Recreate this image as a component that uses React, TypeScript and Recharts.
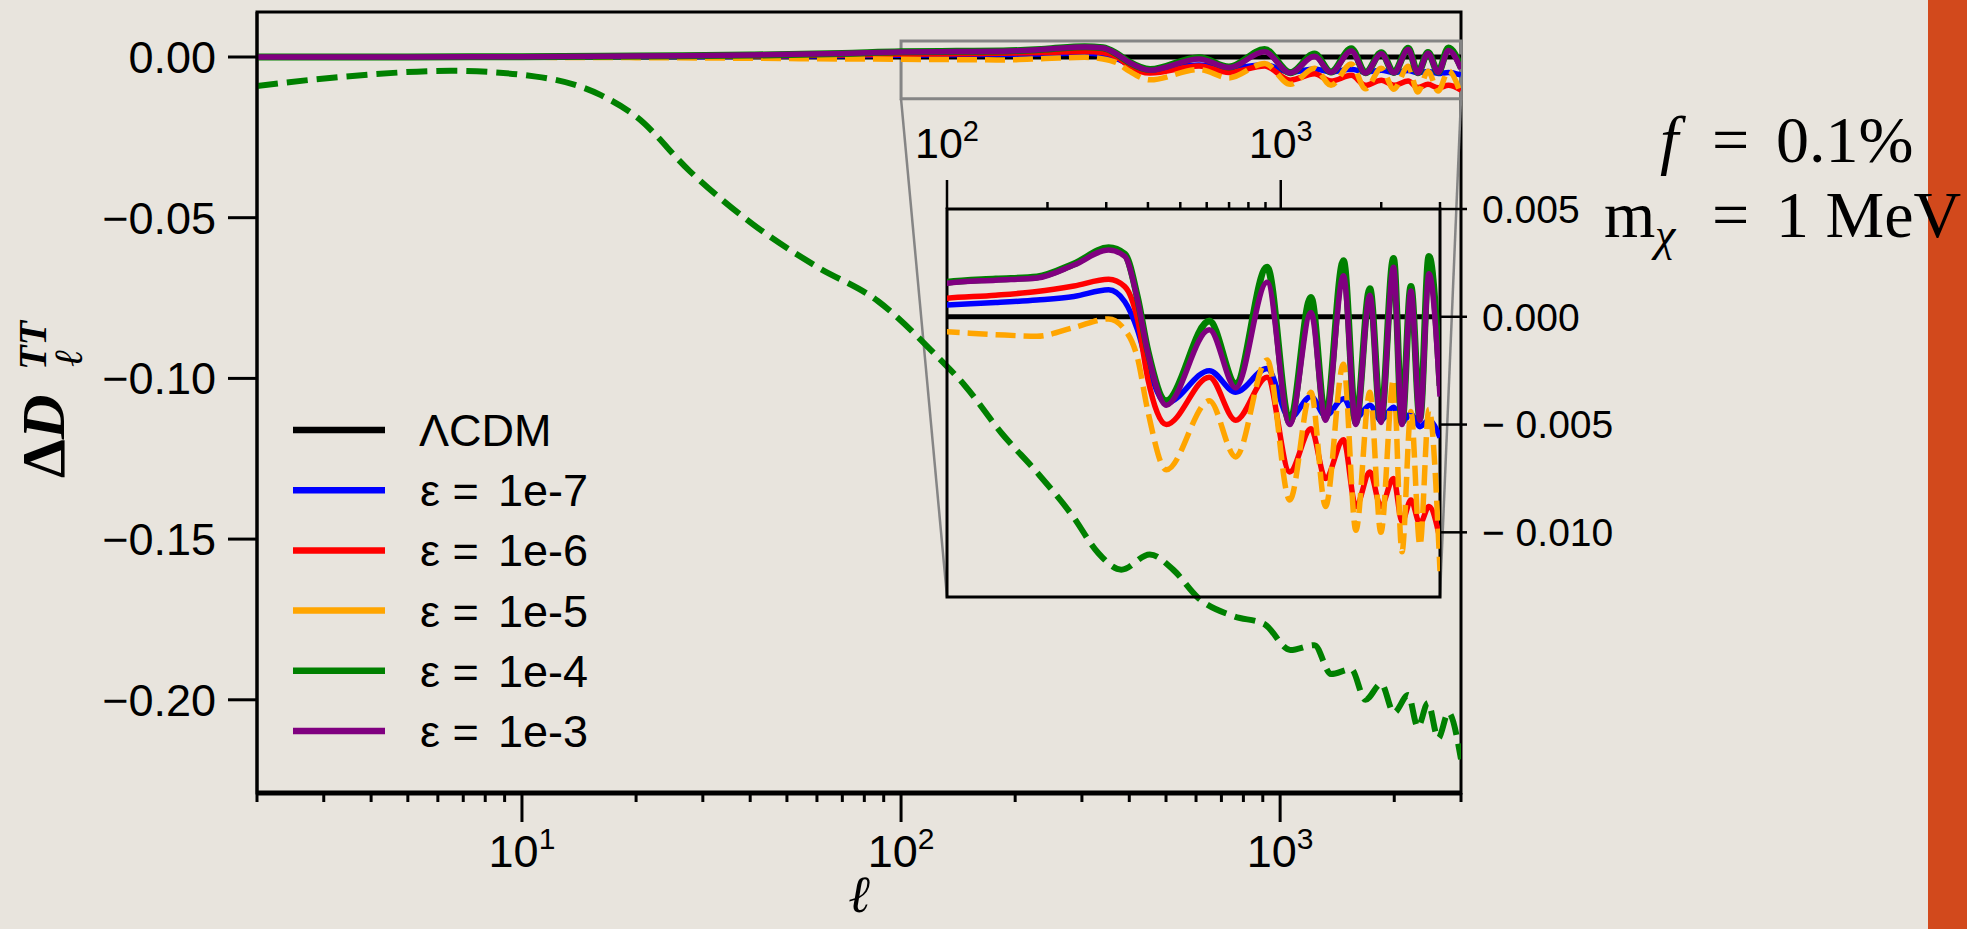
import React from "react";
import { Line, LineChart, ReferenceArea, ReferenceLine, XAxis, YAxis } from "recharts";

// multipole grid shared by the near-zero curves
const ell = [
  2, 5, 10, 20, 40, 70, 100, 140, 186, 240, 305, 341, 372, 400, 454, 611, 733,
  910, 1064, 1232, 1362, 1541, 1679, 1849, 1995, 2177, 2308, 2455, 2612, 2780,
  3000,
];

const lcdmEll = [2, 3000];
const lcdmVals = [0, 0];

const eps7 = [
  0, 0.00001, 0.00003, 0.0001, 0.0002, 0.0004, 0.00055, 0.00066, 0.00078,
  0.00094, 0.00125, 0.0007, -0.0006, -0.0023, -0.004, -0.0025, -0.0035,
  -0.0024, -0.0047, -0.0037, -0.0046, -0.0038, -0.0047, -0.0041, -0.0048,
  -0.0042, -0.0049, -0.0045, -0.0051, -0.0048, -0.0056,
];
const eps6 = [
  0, 0.00002, 0.00005, 0.00015, 0.0003, 0.0006, 0.00086, 0.001, 0.00117,
  0.00143, 0.00174, 0.0014, -0.0001, -0.0029, -0.005, -0.0028, -0.0048,
  -0.0028, -0.0072, -0.0052, -0.0075, -0.0057, -0.0088, -0.0072, -0.0088,
  -0.0075, -0.0095, -0.0085, -0.0096, -0.0088, -0.0103,
];
const eps5 = [
  0, -0.00003, -0.0001, -0.0002, -0.0004, -0.0006, -0.0007, -0.00083, -0.0009,
  -0.0005, -0.0001, -0.0006, -0.0019, -0.0044, -0.0071, -0.0039, -0.0065,
  -0.002, -0.0085, -0.0035, -0.0088, -0.0022, -0.0099, -0.0035, -0.01,
  -0.0029, -0.0109, -0.0044, -0.0106, -0.0043, -0.0118,
];
const eps4 = [
  0, 0.00003, 0.0001, 0.0003, 0.0006, 0.0011, 0.0016, 0.00175, 0.00185,
  0.00245, 0.0032, 0.0029, 0.0009, -0.0016, -0.0039, -0.0002, -0.0031, 0.0023,
  -0.0049, 0.0009, -0.0047, 0.0026, -0.0049, 0.0013, -0.0048, 0.0027, -0.0049,
  0.0014, -0.0047, 0.0028, -0.0032,
];
const eps3 = [
  0, 0.00003, 0.0001, 0.0003, 0.0006, 0.0011, 0.00156, 0.0017, 0.0018, 0.0024,
  0.0031, 0.0028, 0.0008, -0.0017, -0.0041, -0.0006, -0.0033, 0.0016, -0.005,
  0.0002, -0.0048, 0.0019, -0.005, 0.001, -0.0049, 0.0023, -0.005, 0.0012,
  -0.0048, 0.002, -0.0037,
];

// the large dashed green curve
const bigEll = [
  2, 3.4, 6.5, 10.9, 16.1, 20, 27.7, 40.6, 59.5, 87, 122, 148, 184, 229, 284,
  331, 381, 453, 522, 608, 755, 910, 1064, 1232, 1362, 1541, 1679, 1849, 1995,
  2177, 2308, 2455, 2612, 2780, 3000,
];
const bigVals = [
  -0.009, -0.0061, -0.0043, -0.0061, -0.0118, -0.0185, -0.0355, -0.052, -0.065,
  -0.076, -0.0921, -0.1025, -0.117, -0.1294, -0.1429, -0.1543, -0.1595,
  -0.1548, -0.1595, -0.1683, -0.174, -0.1765, -0.1845, -0.183, -0.192, -0.1905,
  -0.2, -0.195, -0.204, -0.1985, -0.2085, -0.201, -0.212, -0.204, -0.2185,
];

const seriesNames = ["ΛCDM", "1e-7", "1e-6", "1e-5", "1e-4", "1e-3"];
const seriesColors = ["#000000", "#0000ff", "#ff0000", "#ffa500", "#008000", "#800080"];

const mainXTicks = [
  2, 3, 4, 5, 6, 7, 8, 9, 10, 20, 30, 40, 50, 60, 70, 80, 90, 100, 200, 300,
  400, 500, 600, 700, 800, 900, 1000, 2000, 3000,
];
const mainMajors = [10, 100, 1000];
const mainMajorExps = ["1", "2", "3"];
const mainYTicks = [0, -0.05, -0.1, -0.15, -0.2];
const mainYLabels = ["0.00", "−0.05", "−0.10", "−0.15", "−0.20"];

const insetXTicks = [100, 200, 300, 400, 500, 600, 700, 800, 900, 1000, 2000, 3000];
const insetMajors = [100, 1000];
const insetMajorExps = ["2", "3"];
const insetYTicks = [0.005, 0, -0.005, -0.01];
const insetYLabels = ["0.005", "0.000", "− 0.005", "− 0.010"];

const mainXDomain = [2, 3000];
const mainYDomain = [-0.229, 0.014];
const insetXDomain = [100, 3000];
const insetYDomain = [-0.013, 0.005];

// inset box corners expressed in the main axes (for the connector lines)
const insetCornerEllLeft = 132.2;
const insetCornerEllRight = 2640;
const insetCornerBottom = -0.168;

const BG = "#e8e4dd";
const NARROW = '"Liberation Sans Narrow", "Arial Narrow", "Liberation Sans", sans-serif';
const SANS = '"Liberation Sans", Arial, sans-serif';
const SERIF = '"Liberation Serif", "Times New Roman", serif';

const toRows = (xs: number[], ys: number[]) => xs.map((l, i) => ({ l, v: ys[i] }));

const lcdmData = toRows(lcdmEll, lcdmVals);
const eps7Data = toRows(ell, eps7);
const eps6Data = toRows(ell, eps6);
const eps5Data = toRows(ell, eps5);
const eps4Data = toRows(ell, eps4);
const eps3Data = toRows(ell, eps3);
const bigData = toRows(bigEll, bigVals);

function MainXTick(props: any) {
  const { x, y, payload } = props;
  const idx = mainMajors.indexOf(payload.value);
  const major = idx >= 0;
  return (
    <g>
      <line x1={x} x2={x} y1={y} y2={y + (major ? 29 : 9)} stroke="#000" strokeWidth={3} />
      {major ? (
        <text x={x} y={y + 74} textAnchor="middle" fontSize={45} fontFamily={NARROW} fill="#000">
          10
          <tspan dy={-18} fontSize={30}>
            {mainMajorExps[idx]}
          </tspan>
        </text>
      ) : null}
    </g>
  );
}

function InsetXTick(props: any) {
  const { x, y, payload } = props;
  const idx = insetMajors.indexOf(payload.value);
  const major = idx >= 0;
  return (
    <g>
      <line x1={x} x2={x} y1={y} y2={y - (major ? 29 : 7)} stroke="#000" strokeWidth={2.5} />
      {major ? (
        <text x={x} y={y - 51} textAnchor="middle" fontSize={43} fontFamily={NARROW} fill="#000">
          10
          <tspan dy={-17} fontSize={29}>
            {insetMajorExps[idx]}
          </tspan>
        </text>
      ) : null}
    </g>
  );
}

function Curves({ inset }: { inset: boolean }) {
  const w = 5.5;
  return (
    <>
      <Line data={lcdmData} dataKey="v" stroke={seriesColors[0]} strokeWidth={5} dot={false} isAnimationActive={false} />
      <Line data={eps7Data} dataKey="v" type="monotone" stroke={seriesColors[1]} strokeWidth={w} dot={false} isAnimationActive={false} />
      <Line data={eps6Data} dataKey="v" type="monotone" stroke={seriesColors[2]} strokeWidth={w} dot={false} isAnimationActive={false} />
      <Line data={eps5Data} dataKey="v" type="monotone" stroke={seriesColors[3]} strokeWidth={w} strokeDasharray="20 8" dot={false} isAnimationActive={false} />
      <Line data={eps4Data} dataKey="v" type="monotone" stroke={seriesColors[4]} strokeWidth={w + 1.5} dot={false} isAnimationActive={false} />
      <Line data={eps3Data} dataKey="v" type="monotone" stroke={seriesColors[5]} strokeWidth={w} dot={false} isAnimationActive={false} />
      {inset ? null : (
        <Line data={bigData} dataKey="v" type="monotone" stroke="#008000" strokeWidth={6} strokeDasharray="21 9" dot={false} isAnimationActive={false} />
      )}
    </>
  );
}

function Legend() {
  return (
    <g>
      {seriesNames.map((name, i) => {
        const cy = 430 + i * 60.2;
        return (
          <g key={name}>
            <line x1={293} x2={385} y1={cy} y2={cy} stroke={seriesColors[i]} strokeWidth={6.5} />
            {i === 0 ? (
              <text x={419} y={cy + 16} fontSize={45} fontFamily={NARROW} fill="#000">
                {name}
              </text>
            ) : (
              <text y={cy + 16} fontSize={45} fontFamily={NARROW} fill="#000">
                <tspan x={420}>ε =</tspan>
                <tspan x={498}>{name}</tspan>
              </text>
            )}
          </g>
        );
      })}
    </g>
  );
}

export default function App() {
  return (
    <div style={{ position: "absolute", left: 0, top: 0, width: 1967, height: 929, background: BG, overflow: "hidden" }}>
      <LineChart
        width={1967}
        height={929}
        margin={{ top: 12, right: 506, bottom: 0, left: 0 }}
        style={{ position: "absolute", left: 0, top: 0 }}
      >
        <XAxis
          dataKey="l"
          type="number"
          scale="log"
          domain={mainXDomain}
          allowDataOverflow
          ticks={mainXTicks}
          interval={0}
          height={136}
          tickSize={0}
          tickMargin={0}
          tickLine={false}
          axisLine={{ stroke: "#000", strokeWidth: 5 }}
          tick={<MainXTick />}
        />
        <YAxis
          type="number"
          domain={mainYDomain}
          allowDataOverflow
          ticks={mainYTicks}
          interval={0}
          width={257}
          tickSize={29}
          tickMargin={12}
          stroke="#000"
          tickLine={{ stroke: "#000", strokeWidth: 3 }}
          axisLine={{ stroke: "#000", strokeWidth: 3 }}
          tick={{ fill: "#000", fontSize: 45, fontFamily: NARROW }}
          tickFormatter={(v: number) => mainYLabels[mainYTicks.indexOf(v)] ?? ""}
        />
        <ReferenceArea x1={2} x2={3000} y1={-0.229} y2={0.014} fill="none" stroke="#000" strokeWidth={3} ifOverflow="visible" />
        <ReferenceArea x1={100} x2={3000} y1={-0.013} y2={0.005} fill="none" stroke="#858585" strokeWidth={3} ifOverflow="visible" />
        <ReferenceLine
          segment={[{ x: 100, y: -0.013 }, { x: insetCornerEllLeft, y: insetCornerBottom }]}
          stroke="#858585"
          strokeWidth={2.5}
          ifOverflow="visible"
        />
        <ReferenceLine
          segment={[{ x: 3000, y: -0.013 }, { x: insetCornerEllRight, y: insetCornerBottom }]}
          stroke="#858585"
          strokeWidth={2.5}
          ifOverflow="visible"
        />
        {Curves({ inset: false })}
      </LineChart>

      <LineChart
        width={1967}
        height={929}
        margin={{ top: 149, right: 327, bottom: 332, left: 947 }}
        style={{ position: "absolute", left: 0, top: 0 }}
      >
        <XAxis
          dataKey="l"
          type="number"
          orientation="top"
          scale="log"
          domain={insetXDomain}
          allowDataOverflow
          ticks={insetXTicks}
          interval={0}
          height={60}
          tickSize={0}
          tickMargin={0}
          tickLine={false}
          axisLine={false}
          tick={<InsetXTick />}
        />
        <YAxis
          type="number"
          orientation="right"
          domain={insetYDomain}
          allowDataOverflow
          ticks={insetYTicks}
          interval={0}
          width={200}
          tickSize={27}
          tickMargin={15}
          stroke="#000"
          tickLine={{ stroke: "#000", strokeWidth: 2.5 }}
          axisLine={false}
          tick={{ fill: "#000", fontSize: 39, fontFamily: SANS }}
          tickFormatter={(v: number) => insetYLabels[insetYTicks.indexOf(v)] ?? ""}
        />
        <ReferenceArea x1={100} x2={3000} y1={-0.013} y2={0.005} fill="none" stroke="#000" strokeWidth={3} ifOverflow="visible" />
        {Curves({ inset: true })}
      </LineChart>

      <svg width={1967} height={929} style={{ position: "absolute", left: 0, top: 0, pointerEvents: "none" }}>
        <rect x={1928} y={0} width={39} height={929} fill="#d2491c" />
        <Legend />
        <text transform="rotate(-90)" x={-478} y={64} fontFamily={SERIF} fontWeight="bold" fontSize={62} fill="#000">
          Δ<tspan fontStyle="italic">D</tspan>
        </text>
        <text transform="rotate(-90)" x={-367} y={82} fontFamily={SERIF} fontStyle="italic" fontSize={40} fill="#000">
          ℓ
        </text>
        <text transform="rotate(-90)" x={-370} y={46} fontFamily={SERIF} fontStyle="italic" fontWeight="bold" fontSize={40} fill="#000">
          TT
        </text>
        <text x={859} y={912} textAnchor="middle" fontFamily={SERIF} fontStyle="italic" fontSize={52} fill="#000">
          ℓ
        </text>
        <text x={1660} y={162} fontFamily={SERIF} fontStyle="italic" fontSize={66} fill="#000">
          f
        </text>
        <text x={1712} y={162} fontFamily={SERIF} fontSize={66} fill="#000">
          =
        </text>
        <text x={1776} y={162} fontFamily={SERIF} fontSize={66} fill="#000">
          0.1%
        </text>
        <text x={1604} y={237} fontFamily={SERIF} fontSize={66} fill="#000">
          m
        </text>
        <text x={1655} y={250} fontFamily={SERIF} fontStyle="italic" fontSize={46} fill="#000">
          χ
        </text>
        <text x={1712} y={237} fontFamily={SERIF} fontSize={66} fill="#000">
          =
        </text>
        <text x={1776} y={237} fontFamily={SERIF} fontSize={66} fill="#000">
          1 MeV
        </text>
      </svg>
    </div>
  );
}
